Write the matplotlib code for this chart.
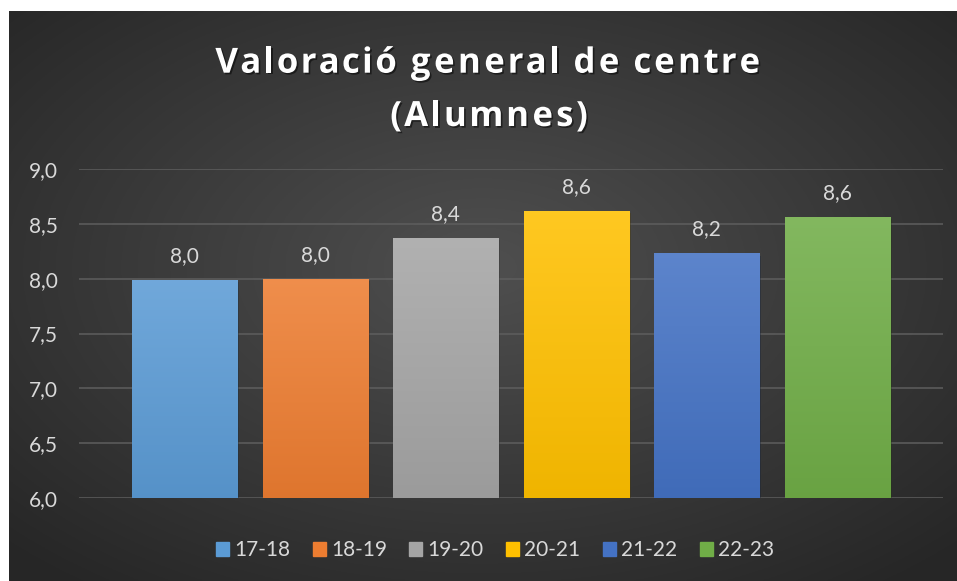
import matplotlib
matplotlib.use("Agg")
import matplotlib.pyplot as plt
import matplotlib.patheffects as pe
import matplotlib.font_manager as fm
from matplotlib.ft2font import FT2Font
import numpy as np
from matplotlib.colors import LinearSegmentedColormap, to_rgb
from matplotlib.patches import Rectangle
from matplotlib.ticker import FuncFormatter

# dades
cursos = ['17-18', '18-19', '19-20', '20-21', '21-22', '22-23']
valors = [7.99, 8.00, 8.37, 8.62, 8.23, 8.56]
colors = ['#5b9bd5', '#ed7d31', '#a5a5a5', '#ffc000', '#4472c4', '#70ad47']
titol = ['Valoració general de centre', '(Alumnes)']

plt.rcParams['font.family'] = ['Lato', 'DejaVu Sans']
text_col = '#d9d9d9'
W, H = 957, 581


def mix(c, other, t):
    c = np.array(to_rgb(c))
    return tuple(c + (np.array(other) - c) * t)


# text amb espaiat entre lletres (l'excel el fa, matplotlib no)
def text_espaiat(fig, xc, y, s, espai, size, **kw):
    prop = fm.FontProperties(family='Open Sans', weight=kw.get('fontweight', 'bold'))
    font = FT2Font(fm.findfont(prop), hinting_factor=1)
    font.set_size(size, 100)
    avs = []
    for ch in s:
        g = font.load_char(ord(ch))
        avs.append(g.horiAdvance / 64)
    total = sum(avs) + espai * (len(s) - 1)
    pos = xc - total / 2
    for ch, a in zip(s, avs):
        if ch != ' ':
            fig.text((pos + a / 2) / W, y, ch, ha='center', va='baseline', fontsize=size,
                     family=['Open Sans', 'DejaVu Sans'], **kw)
        pos += a + espai


fig = plt.figure(figsize=(W / 100, H / 100), dpi=100)
fig.patch.set_facecolor('white')

# fons fosc amb degradat radial
bg = fig.add_axes([9 / W, 0, 1 - 9 / W, 1 - 11 / H])
yy, xx = np.mgrid[-1:1:300j, -1:1:500j]
r = np.clip(np.sqrt(xx**2 + (yy + 0.1)**2) / np.sqrt(2), 0, 1)
c0 = np.array([0.31, 0.31, 0.31])
c1 = np.array([0.15, 0.15, 0.15])
bg.imshow(c0 + (c1 - c0) * r[..., None], aspect='auto', extent=[0, 1, 0, 1])
bg.axis('off')

# eixos principals
ax = fig.add_axes([79 / W, 1 - 498 / H, 864 / W, 329 / H])
ax.patch.set_alpha(0)

x = np.arange(len(cursos))
amp = 0.805
for i, (v, c) in enumerate(zip(valors, colors)):
    b = ax.bar(x[i], v, width=amp, color=c, zorder=3,
               path_effects=[pe.SimplePatchShadow(offset=(1.5, -1.5), alpha=0.35), pe.Normal()])
    patch = b.patches[0]
    cmap = LinearSegmentedColormap.from_list('g', [mix(c, (0, 0, 0), 0.06), mix(c, (1, 1, 1), 0.13)])
    grad = np.linspace(0, 1, 100).reshape(-1, 1)
    im = ax.imshow(grad, extent=[x[i] - amp / 2, x[i] + amp / 2, 6, v], origin='lower',
                   aspect='auto', cmap=cmap, zorder=3.5)
    im.set_clip_path(patch)
    ax.annotate(f"{v:.1f}".replace('.', ','), (x[i], v), xytext=(0, 13),
                textcoords='offset points', ha='center', va='baseline',
                fontsize=15, color=text_col, zorder=5)

ax.set_xlim(-0.81, 5.81)
ax.set_ylim(6, 9)
ax.set_yticks(np.arange(6, 9.01, 0.5))
ax.yaxis.set_major_formatter(FuncFormatter(lambda v, _: f"{v:.1f}".replace('.', ',')))
ax.set_xticks([])
ax.yaxis.grid(True, color='#5e5e5e', lw=1.1)
ax.set_axisbelow(True)
for s in ax.spines.values():
    s.set_visible(False)
ax.tick_params(axis='y', length=0, pad=15, labelsize=15, labelcolor=text_col)

# títol
ombra = [pe.withSimplePatchShadow(offset=(1.2, -1.2), alpha=0.5, shadow_rgbFace='black')]
text_espaiat(fig, 488, 1 - 72.7 / H, titol[0], 2.1, 25, fontweight='bold',
             color='white', path_effects=ombra)
text_espaiat(fig, 489, 1 - 126 / H, titol[1], 2.1, 25, fontweight='bold',
             color='white', path_effects=ombra)

# llegenda
handles = [Rectangle((0, 0), 1, 1, color=c) for c in colors]
fig.legend(handles, cursos, loc='center', bbox_to_anchor=(495 / W, 1 - 550 / H), ncol=6,
           frameon=False, fontsize=15, handlelength=0.62, handleheight=0.65,
           handletextpad=0.24, columnspacing=1.09, labelcolor=text_col)

fig.savefig('out.png', dpi=100)
